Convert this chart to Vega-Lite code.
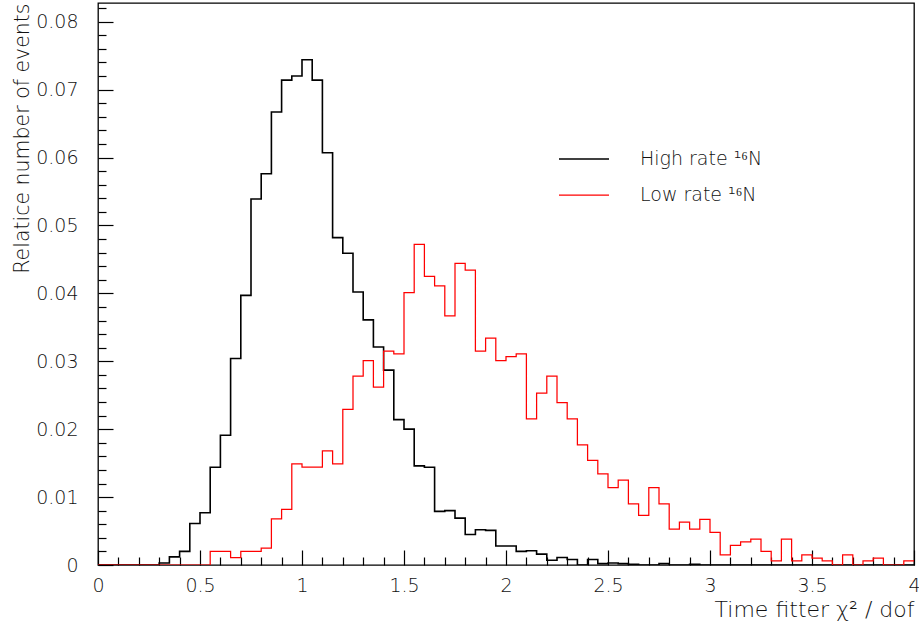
{
  "$schema": "https://vega.github.io/schema/vega-lite/v6.json",
  "width": 816,
  "height": 562,
  "autosize": {"type": "none"},
  "padding": {"left": 98, "top": 3, "right": 5, "bottom": 64},
  "background": "white",
  "config": {
    "font": "DejaVu Sans",
    "view": {"stroke": "black", "strokeWidth": 1.3},
    "axis": {"grid": false, "domain": false, "tickColor": "black", "tickWidth": 1.2, "labelColor": "#111111", "titleColor": "#111111", "labelFont": "DejaVu Sans", "titleFont": "DejaVu Sans", "titleFontWeight": 200, "labelFontWeight": 200, "labelFontSize": 19}
  },
  "data": {"values": [
    {"x":0,"y":0,"s":"H"},{"x":0.05,"y":0,"s":"H"},{"x":0.1,"y":0,"s":"H"},{"x":0.15,"y":0,"s":"H"},{"x":0.2,"y":0,"s":"H"},{"x":0.25,"y":0,"s":"H"},{"x":0.3,"y":0.0003,"s":"H"},{"x":0.35,"y":0.0012,"s":"H"},{"x":0.4,"y":0.002,"s":"H"},{"x":0.45,"y":0.0061,"s":"H"},
    {"x":0.5,"y":0.0077,"s":"H"},{"x":0.55,"y":0.0144,"s":"H"},{"x":0.6,"y":0.0191,"s":"H"},{"x":0.65,"y":0.0304,"s":"H"},{"x":0.7,"y":0.0397,"s":"H"},{"x":0.75,"y":0.0539,"s":"H"},{"x":0.8,"y":0.0576,"s":"H"},{"x":0.85,"y":0.0667,"s":"H"},{"x":0.9,"y":0.0714,"s":"H"},{"x":0.95,"y":0.072,"s":"H"},
    {"x":1,"y":0.0744,"s":"H"},{"x":1.05,"y":0.0714,"s":"H"},{"x":1.1,"y":0.0607,"s":"H"},{"x":1.15,"y":0.0482,"s":"H"},{"x":1.2,"y":0.0459,"s":"H"},{"x":1.25,"y":0.0402,"s":"H"},{"x":1.3,"y":0.0361,"s":"H"},{"x":1.35,"y":0.0321,"s":"H"},{"x":1.4,"y":0.0287,"s":"H"},{"x":1.45,"y":0.0214,"s":"H"},
    {"x":1.5,"y":0.02,"s":"H"},{"x":1.55,"y":0.0146,"s":"H"},{"x":1.6,"y":0.0144,"s":"H"},{"x":1.65,"y":0.0079,"s":"H"},{"x":1.7,"y":0.008,"s":"H"},{"x":1.75,"y":0.0069,"s":"H"},{"x":1.8,"y":0.0045,"s":"H"},{"x":1.85,"y":0.0052,"s":"H"},{"x":1.9,"y":0.0051,"s":"H"},{"x":1.95,"y":0.0028,"s":"H"},
    {"x":2,"y":0.0028,"s":"H"},{"x":2.05,"y":0.002,"s":"H"},{"x":2.1,"y":0.0021,"s":"H"},{"x":2.15,"y":0.0016,"s":"H"},{"x":2.2,"y":0.0007,"s":"H"},{"x":2.25,"y":0.0011,"s":"H"},{"x":2.3,"y":0.0008,"s":"H"},{"x":2.35,"y":0,"s":"H"},{"x":2.4,"y":0.0008,"s":"H"},{"x":2.45,"y":0.0002,"s":"H"},
    {"x":2.5,"y":0.0003,"s":"H"},{"x":2.55,"y":0.0002,"s":"H"},{"x":2.6,"y":0.0001,"s":"H"},{"x":2.65,"y":0,"s":"H"},{"x":2.7,"y":0,"s":"H"},{"x":2.75,"y":0.0002,"s":"H"},{"x":2.8,"y":0,"s":"H"},{"x":2.85,"y":0,"s":"H"},{"x":2.9,"y":0.0001,"s":"H"},{"x":2.95,"y":0,"s":"H"},
    {"x":3,"y":0,"s":"H"},{"x":3.05,"y":0,"s":"H"},{"x":3.1,"y":0,"s":"H"},{"x":3.15,"y":0,"s":"H"},{"x":3.2,"y":0,"s":"H"},{"x":3.25,"y":0,"s":"H"},{"x":3.3,"y":0,"s":"H"},{"x":3.35,"y":0,"s":"H"},{"x":3.4,"y":0,"s":"H"},{"x":3.45,"y":0,"s":"H"},
    {"x":3.5,"y":0,"s":"H"},{"x":3.55,"y":0,"s":"H"},{"x":3.6,"y":0,"s":"H"},{"x":3.65,"y":0,"s":"H"},{"x":3.7,"y":0,"s":"H"},{"x":3.75,"y":0,"s":"H"},{"x":3.8,"y":0,"s":"H"},{"x":3.85,"y":0,"s":"H"},{"x":3.9,"y":0,"s":"H"},{"x":3.95,"y":0,"s":"H"},{"x":4,"y":0,"s":"H"},
    {"x":0,"y":0,"s":"L"},{"x":0.05,"y":0,"s":"L"},{"x":0.1,"y":0,"s":"L"},{"x":0.15,"y":0,"s":"L"},{"x":0.2,"y":0,"s":"L"},{"x":0.25,"y":0,"s":"L"},{"x":0.3,"y":0,"s":"L"},{"x":0.35,"y":0,"s":"L"},{"x":0.4,"y":0,"s":"L"},{"x":0.45,"y":0,"s":"L"},
    {"x":0.5,"y":0,"s":"L"},{"x":0.55,"y":0.002,"s":"L"},{"x":0.6,"y":0.002,"s":"L"},{"x":0.65,"y":0.0011,"s":"L"},{"x":0.7,"y":0.002,"s":"L"},{"x":0.75,"y":0.002,"s":"L"},{"x":0.8,"y":0.0025,"s":"L"},{"x":0.85,"y":0.0068,"s":"L"},{"x":0.9,"y":0.0082,"s":"L"},{"x":0.95,"y":0.0149,"s":"L"},
    {"x":1,"y":0.0144,"s":"L"},{"x":1.05,"y":0.0144,"s":"L"},{"x":1.1,"y":0.0168,"s":"L"},{"x":1.15,"y":0.0149,"s":"L"},{"x":1.2,"y":0.0229,"s":"L"},{"x":1.25,"y":0.0278,"s":"L"},{"x":1.3,"y":0.0301,"s":"L"},{"x":1.35,"y":0.0262,"s":"L"},{"x":1.4,"y":0.0315,"s":"L"},{"x":1.45,"y":0.0311,"s":"L"},
    {"x":1.5,"y":0.0401,"s":"L"},{"x":1.55,"y":0.0472,"s":"L"},{"x":1.6,"y":0.0425,"s":"L"},{"x":1.65,"y":0.0411,"s":"L"},{"x":1.7,"y":0.0367,"s":"L"},{"x":1.75,"y":0.0444,"s":"L"},{"x":1.8,"y":0.0434,"s":"L"},{"x":1.85,"y":0.0315,"s":"L"},{"x":1.9,"y":0.0334,"s":"L"},{"x":1.95,"y":0.0301,"s":"L"},
    {"x":2,"y":0.0307,"s":"L"},{"x":2.05,"y":0.0311,"s":"L"},{"x":2.1,"y":0.0215,"s":"L"},{"x":2.15,"y":0.0253,"s":"L"},{"x":2.2,"y":0.0278,"s":"L"},{"x":2.25,"y":0.0239,"s":"L"},{"x":2.3,"y":0.0215,"s":"L"},{"x":2.35,"y":0.0177,"s":"L"},{"x":2.4,"y":0.0154,"s":"L"},{"x":2.45,"y":0.0134,"s":"L"},
    {"x":2.5,"y":0.0114,"s":"L"},{"x":2.55,"y":0.0125,"s":"L"},{"x":2.6,"y":0.009,"s":"L"},{"x":2.65,"y":0.0073,"s":"L"},{"x":2.7,"y":0.0114,"s":"L"},{"x":2.75,"y":0.009,"s":"L"},{"x":2.8,"y":0.0053,"s":"L"},{"x":2.85,"y":0.0063,"s":"L"},{"x":2.9,"y":0.0053,"s":"L"},{"x":2.95,"y":0.0067,"s":"L"},
    {"x":3,"y":0.0048,"s":"L"},{"x":3.05,"y":0.0015,"s":"L"},{"x":3.1,"y":0.0029,"s":"L"},{"x":3.15,"y":0.0034,"s":"L"},{"x":3.2,"y":0.0038,"s":"L"},{"x":3.25,"y":0.002,"s":"L"},{"x":3.3,"y":0.0006,"s":"L"},{"x":3.35,"y":0.0038,"s":"L"},{"x":3.4,"y":0.0006,"s":"L"},{"x":3.45,"y":0.0015,"s":"L"},
    {"x":3.5,"y":0.001,"s":"L"},{"x":3.55,"y":0.0006,"s":"L"},{"x":3.6,"y":0,"s":"L"},{"x":3.65,"y":0.0015,"s":"L"},{"x":3.7,"y":0,"s":"L"},{"x":3.75,"y":0.0006,"s":"L"},{"x":3.8,"y":0.001,"s":"L"},{"x":3.85,"y":0,"s":"L"},{"x":3.9,"y":0,"s":"L"},{"x":3.95,"y":0.0006,"s":"L"},{"x":4,"y":0.0006,"s":"L"}
  ]},
  "layer": [
    {
      "mark": {"type": "line", "interpolate": "step-after", "clip": true},
      "encoding": {
        "x": {"field": "x", "type": "quantitative", "scale": {"domain": [0, 4], "nice": false, "zero": false},
          "axis": {"orient": "bottom", "values": [0, 0.5, 1, 1.5, 2, 2.5, 3, 3.5, 4], "format": "~g", "tickSize": -15, "labelPadding": 26, "labelFlush": false, "labelOverlap": false,
            "title": "Time fitter χ² / dof", "titleFontSize": 22, "titleAnchor": "end", "titlePadding": 4}},
        "y": {"field": "y", "type": "quantitative", "scale": {"domain": [0, 0.08275], "nice": false, "zero": true},
          "axis": {"orient": "left", "values": [0, 0.01, 0.02, 0.03, 0.04, 0.05, 0.06, 0.07, 0.08], "format": "~g", "tickSize": -15, "labelPadding": 35, "labelFlush": false, "labelOverlap": false,
            "title": "Relatice number of events", "titleFontSize": 20.5, "titleAnchor": "end", "titlePadding": 3}},
        "color": {"field": "s", "type": "nominal", "scale": {"domain": ["H", "L"], "range": ["black", "#ff0000"]},
          "legend": {"orient": "none", "legendX": 460, "legendY": 130, "title": null, "symbolType": "stroke", "symbolSize": 2500, "symbolStrokeWidth": 1.3,
            "labelFontSize": 19, "labelFontWeight": 200, "labelOffset": 30, "rowPadding": -17, "padding": 0, "labelColor": "#111111", "labelFont": "DejaVu Sans",
            "labelExpr": "datum.value === 'H' ? 'High rate ¹⁶N' : 'Low rate ¹⁶N'"}},
        "strokeWidth": {"field": "s", "type": "nominal", "scale": {"domain": ["H", "L"], "range": [1.6, 1.25]}, "legend": null}
      }
    },
    {
      "transform": [{"filter": "datum.x < 0"}],
      "mark": {"type": "line"},
      "encoding": {
        "x": {"field": "x", "type": "quantitative", "scale": {"domain": [0, 4], "nice": false, "zero": false},
          "axis": {"orient": "bottom", "values": [0.1, 0.2, 0.3, 0.4, 0.6, 0.7, 0.8, 0.9, 1.1, 1.2, 1.3, 1.4, 1.6, 1.7, 1.8, 1.9, 2.1, 2.2, 2.3, 2.4, 2.6, 2.7, 2.8, 2.9, 3.1, 3.2, 3.3, 3.4, 3.6, 3.7, 3.8, 3.9], "tickSize": -8, "labels": false, "title": null}},
        "y": {"field": "y", "type": "quantitative", "scale": {"domain": [0, 0.08275], "nice": false, "zero": true},
          "axis": {"orient": "left", "values": [0.002, 0.004, 0.006, 0.008, 0.012, 0.014, 0.016, 0.018, 0.022, 0.024, 0.026, 0.028, 0.032, 0.034, 0.036, 0.038, 0.042, 0.044, 0.046, 0.048, 0.052, 0.054, 0.056, 0.058, 0.062, 0.064, 0.066, 0.068, 0.072, 0.074, 0.076, 0.078, 0.082], "tickSize": -8, "labels": false, "title": null}}
      }
    }
  ],
  "resolve": {"axis": {"x": "independent", "y": "independent"}}
}
